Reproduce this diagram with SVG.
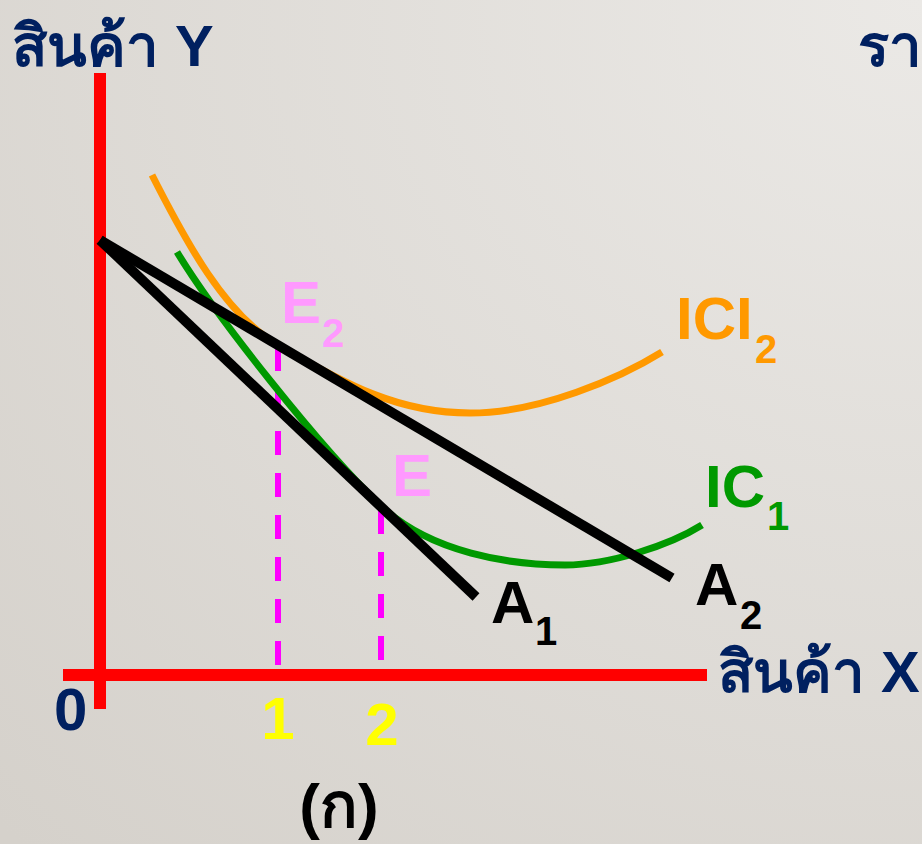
<svg xmlns="http://www.w3.org/2000/svg" width="922" height="844" viewBox="0 0 922 844">
<defs>
<radialGradient id="bg" cx="1" cy="0" r="1.4">
<stop offset="0" stop-color="#ebe9e6"/>
<stop offset="1" stop-color="#d5d1cb"/>
</radialGradient>
<style>
.t{font-family:"Liberation Sans","Noto Sans",Arial,sans-serif;font-weight:bold}
.navy{fill:#002060;font-size:58px}
.big{font-size:60px}
.sub{font-size:40px}
.axis{fill:#ff0000}
.dash{stroke:#ff00ff;stroke-width:6;stroke-dasharray:24 18;fill:none}
.budget{stroke:#000;stroke-width:10;fill:none}
.ic{fill:none;stroke-width:7}
</style>
</defs>
<rect width="922" height="844" fill="url(#bg)"/>
<g id="axes">
<rect class="axis" x="94" y="73" width="12" height="636"/>
<rect class="axis" x="63" y="669" width="644" height="12"/>
</g>
<g id="connectors">
<line class="dash" x1="278" y1="665" x2="278" y2="348"/>
<line class="dash" x1="381" y1="660" x2="381" y2="508"/>
</g>
<g id="ICI2">
<path class="ic" stroke="#ff9900" d="M152,175 C185,240 225,315 278,345 C348,386 400,413 470,413 C540,413 620,378 662,352"/>
<text class="t big" x="676" y="339" fill="#ff9900">ICI</text>
<text class="t sub" x="755" y="363" fill="#ff9900">2</text>
</g>
<g id="IC1">
<path class="ic" stroke="#009900" d="M177,252 C215,315 321,449 381,506 C431,553 510,565 565,565 C610,565 670,545 702,525"/>
<text class="t big" x="705" y="507" fill="#009900">IC</text>
<text class="t sub" x="767" y="530" fill="#009900">1</text>
</g>
<g id="A1">
<line class="budget" x1="100" y1="240" x2="476" y2="597"/>
<text class="t big" x="491" y="623" fill="#000">A</text>
<text class="t sub" x="535" y="645" fill="#000">1</text>
</g>
<g id="A2">
<line class="budget" x1="100" y1="240" x2="672" y2="578"/>
<text class="t big" x="695" y="605" fill="#000">A</text>
<text class="t sub" x="740" y="629" fill="#000">2</text>
</g>
<g id="E2">
<text class="t big" x="281" y="323" fill="#ff99ff">E</text>
<text class="t sub" x="322" y="347" fill="#ff99ff">2</text>
</g>
<g id="E">
<text class="t big" x="392" y="496" fill="#ff99ff">E</text>
</g>
<g id="labels">
<text class="t navy" x="12" y="66">สินค้า Y</text>
<text class="t navy" x="858" y="66">รา</text>
<text class="t navy" x="718" y="692">สินค้า X</text>
<text class="t big" x="54" y="730" fill="#002060">0</text>
<text class="t big" x="278" y="739" fill="#ffff00" text-anchor="middle">1</text>
<text class="t big" x="382" y="745" fill="#ffff00" text-anchor="middle">2</text>
<text class="t" x="339" y="827" font-size="62" fill="#000" text-anchor="middle">(ก)</text>
</g>
</svg>
